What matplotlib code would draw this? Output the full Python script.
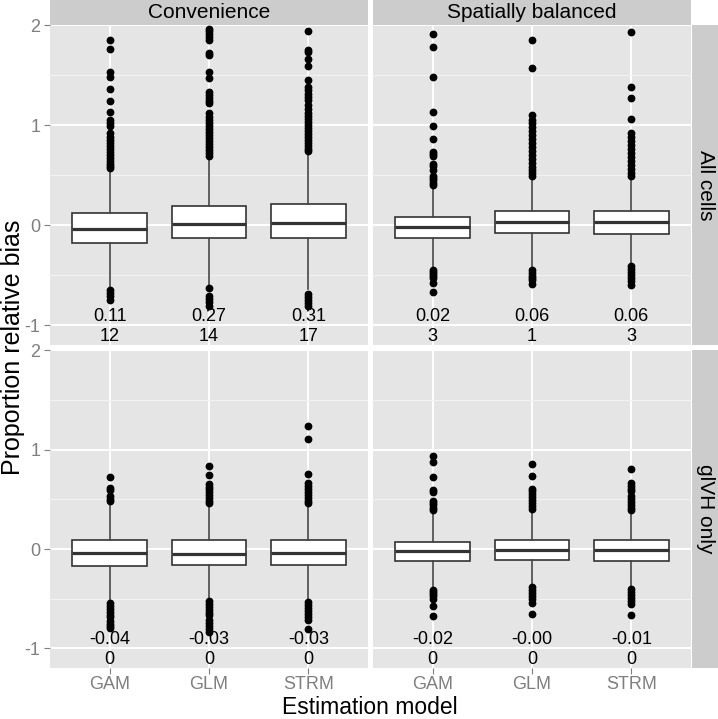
import matplotlib
matplotlib.use("Agg")
import matplotlib.pyplot as plt

plt.rcParams['font.family'] = ['Liberation Sans', 'DejaVu Sans']

# facets and categories
designs = ["Convenience", "Spatially balanced"]
subsets = ["All cells", "glVH only"]
models = ["GAM", "GLM", "STRM"]

# box stats, panel order: conv/all, spat/all, conv/glvh, spat/glvh
q1 = [[-0.18, -0.13, -0.127], [-0.123, -0.08, -0.09],
      [-0.17, -0.158, -0.164], [-0.124, -0.114, -0.12]]
med = [[-0.035, 0.013, 0.02], [-0.02, 0.033, 0.033],
       [-0.04, -0.047, -0.037], [-0.023, -0.013, -0.01]]
q3 = [[0.12, 0.19, 0.213], [0.087, 0.147, 0.14],
      [0.087, 0.087, 0.087], [0.074, 0.087, 0.087]]
whis_lo = [[-0.63, -0.61, -0.64], [-0.43, -0.42, -0.40],
           [-0.52, -0.50, -0.51], [-0.40, -0.36, -0.39]]
whis_hi = [[0.56, 0.67, 0.72], [0.39, 0.48, 0.48],
           [0.46, 0.45, 0.45], [0.37, 0.38, 0.38]]

# outliers
fl_conv_all_gam = [1.85, 1.76, 1.53, 1.48, 1.36, 1.24, 1.13, 1.05, 1.02, 0.99, 0.92, 0.88, 0.85,
                   0.82, 0.79, 0.76, 0.73, 0.70, 0.67, 0.64, 0.61, 0.59, 0.57, -0.65, -0.68, -0.71, -0.75]
fl_conv_all_glm = [1.96, 1.94, 1.91, 1.88, 1.85, 1.72, 1.70, 1.53, 1.47, 1.33, 1.30, 1.27, 1.24, 1.22,
                   1.12, 1.08, 1.05, 1.02, 0.99, 0.96, 0.93, 0.90, 0.87, 0.84, 0.81, 0.78, 0.75,
                   0.72, 0.69, -0.63, -0.71, -0.74, -0.77, -0.81]
fl_conv_all_strm = [1.94, 1.75, 1.73, 1.66, 1.59, 1.45, 1.38, 1.35, 1.31, 1.28, 1.25, 1.20, 1.16, 1.12,
                    1.09, 1.06, 1.03, 1.00, 0.97, 0.94, 0.91, 0.88, 0.85, 0.82, 0.79, 0.76, 0.74,
                    -0.69, -0.72, -0.75, -0.78, -0.81]
fl_spat_all_gam = [1.91, 1.78, 1.48, 1.13, 0.99, 0.86, 0.73, 0.71, 0.69, 0.61, 0.59, 0.55, 0.49,
                   0.47, 0.45, 0.42, 0.40, -0.45, -0.47, -0.49, -0.51, -0.53, -0.58, -0.67]
fl_spat_all_glm = [1.85, 1.57, 1.10, 1.05, 1.02, 0.98, 0.94, 0.90, 0.86, 0.82, 0.78, 0.74, 0.70,
                   0.66, 0.62, 0.58, 0.55, 0.52, 0.49, -0.45, -0.48, -0.51, -0.53, -0.55, -0.59]
fl_spat_all_strm = [1.93, 1.38, 1.27, 1.06, 0.92, 0.88, 0.84, 0.80, 0.76, 0.72, 0.68, 0.64, 0.60,
                    0.56, 0.52, 0.49, -0.41, -0.44, -0.47, -0.50, -0.53, -0.56, -0.60]
fl_conv_glvh_gam = [0.72, 0.61, 0.59, 0.53, 0.50, 0.48, -0.54, -0.57, -0.60, -0.63, -0.66,
                    -0.68, -0.72, -0.75, -0.77, -0.79]
fl_conv_glvh_glm = [0.84, 0.75, 0.65, 0.62, 0.60, 0.57, 0.54, 0.51, 0.48, 0.46, -0.52, -0.55,
                    -0.58, -0.61, -0.64, -0.66, -0.71, -0.74, -0.77, -0.80, -0.83]
fl_conv_glvh_strm = [1.24, 1.11, 0.76, 0.66, 0.63, 0.60, 0.57, 0.54, 0.51, 0.48, 0.46, -0.53,
                     -0.56, -0.59, -0.62, -0.65, -0.68, -0.71, -0.80]
fl_spat_glvh_gam = [0.94, 0.88, 0.73, 0.59, 0.57, 0.48, 0.46, 0.44, 0.41, 0.39, -0.41, -0.43,
                    -0.45, -0.47, -0.50, -0.57, -0.67]
fl_spat_glvh_glm = [0.86, 0.74, 0.60, 0.58, 0.55, 0.52, 0.49, 0.46, 0.43, 0.40, -0.38, -0.41,
                    -0.44, -0.47, -0.50, -0.54, -0.65]
fl_spat_glvh_strm = [0.81, 0.66, 0.63, 0.60, 0.58, 0.53, 0.50, 0.47, 0.44, 0.41, 0.39, -0.40,
                     -0.43, -0.46, -0.49, -0.52, -0.55, -0.66]
fliers = [[fl_conv_all_gam, fl_conv_all_glm, fl_conv_all_strm],
          [fl_spat_all_gam, fl_spat_all_glm, fl_spat_all_strm],
          [fl_conv_glvh_gam, fl_conv_glvh_glm, fl_conv_glvh_strm],
          [fl_spat_glvh_gam, fl_spat_glvh_glm, fl_spat_glvh_strm]]

# annotations under each box
mean_labels = [["0.11", "0.27", "0.31"], ["0.02", "0.06", "0.06"],
               ["-0.04", "-0.03", "-0.03"], ["-0.02", "-0.00", "-0.01"]]
count_labels = [["12", "14", "17"], ["3", "1", "3"],
                ["0", "0", "0"], ["0", "0", "0"]]

W, H = 718, 719
fig = plt.figure(figsize=(W / 100, H / 100), dpi=100)

def px_axes(x0, y0, x1, y1):
    return fig.add_axes([x0 / W, 1 - y1 / H, (x1 - x0) / W, (y1 - y0) / H])

col_x = [(50, 368), (373, 691)]
row_y = [(25, 345), (350, 668)]

for r in range(2):
    for c in range(2):
        k = r * 2 + c
        ax = px_axes(col_x[c][0], row_y[r][0], col_x[c][1], row_y[r][1])
        ax.set_facecolor("#E5E5E5")
        ax.set_xlim(0.4, 3.6)
        ax.set_ylim(-1.197, 2.003)
        ax.set_yticks([-1, 0, 1, 2])
        ax.set_yticks([-0.5, 0.5, 1.5], minor=True)
        ax.grid(True, which="major", color="white", lw=1.4)
        ax.grid(True, which="minor", axis="y", color="#F2F2F2", lw=0.8)
        ax.set_axisbelow(True)
        for s in ax.spines.values():
            s.set_visible(False)
        stats = []
        for i in range(3):
            stats.append(dict(med=med[k][i], q1=q1[k][i], q3=q3[k][i],
                              whislo=whis_lo[k][i], whishi=whis_hi[k][i],
                              fliers=fliers[k][i]))
        ax.bxp(stats, positions=[1, 2, 3], widths=0.75, showcaps=False,
               patch_artist=True,
               boxprops=dict(facecolor="white", edgecolor="#333333", lw=1.2),
               medianprops=dict(color="#333333", lw=2.3),
               whiskerprops=dict(color="#444444", lw=1.2),
               flierprops=dict(marker="o", markerfacecolor="black",
                               markeredgecolor="black", markersize=4.6))
        ax.set_xticks([1, 2, 3])
        for i in range(3):
            ax.text(i + 1, -0.91, mean_labels[k][i], ha="center", va="center", fontsize=13)
            ax.text(i + 1, -1.11, count_labels[k][i], ha="center", va="center", fontsize=13)
        ax.tick_params(which="both", colors="#7F7F7F", length=4, width=0.8)
        ax.tick_params(axis="y", pad=3)
        ax.tick_params(axis="x", pad=2)
        ax.tick_params(which="minor", length=0)
        if c == 0:
            ax.set_yticklabels(["-1", "0", "1", "2"], fontsize=13, color="#7F7F7F")
        else:
            ax.tick_params(axis="y", left=False, labelleft=False)
        if r == 1:
            ax.set_xticklabels(models, fontsize=13, color="#7F7F7F")
        else:
            ax.tick_params(axis="x", bottom=False, labelbottom=False)

# strips
for c in range(2):
    sx = px_axes(col_x[c][0], 0, col_x[c][1], 25)
    sx.set_facecolor("#CCCCCC")
    sx.set_xticks([]); sx.set_yticks([])
    for s in sx.spines.values():
        s.set_visible(False)
    sx.text(0.5, 0.5, designs[c], ha="center", va="center", fontsize=15,
            transform=sx.transAxes)
for r in range(2):
    sy = px_axes(692, row_y[r][0], 718, row_y[r][1])
    sy.set_facecolor("#CCCCCC")
    sy.set_xticks([]); sy.set_yticks([])
    for s in sy.spines.values():
        s.set_visible(False)
    sy.text(0.5, 0.5, subsets[r], ha="center", va="center", fontsize=15,
            rotation=-90, transform=sy.transAxes)

fig.text(370 / W, 1 - 713.5 / H, "Estimation model", ha="center", va="baseline", fontsize=16.5)
fig.text(13 / W, 1 - 347 / H, "Proportion relative bias", ha="center", va="center",
         fontsize=18, rotation=90)

fig.savefig("out.png", dpi=100)
